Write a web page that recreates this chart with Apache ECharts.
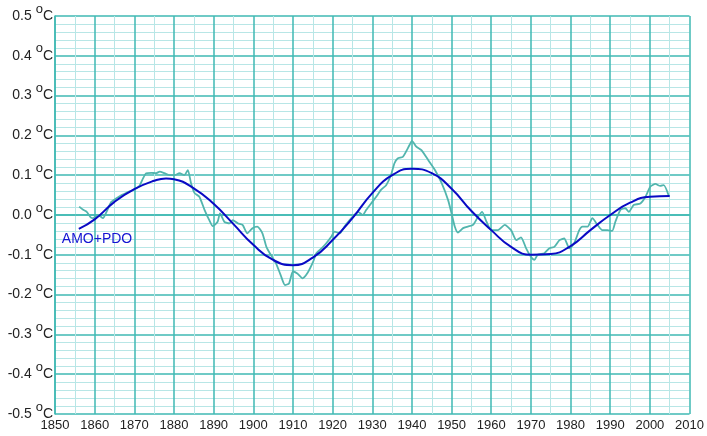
<!DOCTYPE html>
<html>
<head>
<meta charset="utf-8">
<script src="https://cdn.jsdelivr.net/npm/echarts@6/dist/echarts.min.js"></script>
<style>html,body{margin:0;padding:0;background:#fff;}#c{width:707px;height:436px;}</style>
</head>
<body>
<div id="c"></div>
<script>
// Observed (smoothed) temperature anomaly, green-teal curve
const obsYears = [1856.1,1857.1,1858.0,1859.0,1859.6,1860.9,1862.1,1863.0,1864.2,1865.5,1866.8,1868.0,1869.3,1870.5,1871.4,1872.2,1873.0,1874.3,1875.5,1876.4,1877.6,1878.9,1880.1,1881.4,1882.6,1883.5,1884.3,1885.2,1886.4,1887.7,1888.9,1889.8,1891.0,1891.6,1892.7,1894.0,1894.8,1896.1,1897.3,1898.5,1899.8,1901.0,1902.3,1903.3,1904.4,1905.7,1906.9,1908.0,1909.0,1910.0,1911.1,1912.4,1913.7,1915.1,1915.9,1917.2,1918.4,1919.7,1920.5,1921.8,1923.0,1924.3,1925.5,1926.4,1927.6,1928.5,1929.7,1931.0,1932.2,1933.5,1934.7,1935.6,1936.4,1937.7,1938.5,1939.4,1940.0,1941.1,1942.4,1944.1,1945.8,1947.5,1949.1,1950.0,1950.8,1951.6,1952.9,1954.1,1955.4,1956.7,1957.7,1958.8,1960.0,1961.7,1963.4,1965.0,1966.3,1967.5,1968.8,1970.0,1970.9,1971.7,1973.4,1974.6,1975.9,1977.2,1978.4,1979.7,1980.9,1982.2,1983.0,1984.3,1985.5,1986.8,1988.0,1989.3,1990.5,1991.3,1992.6,1993.8,1994.7,1995.9,1997.6,1998.9,2000.1,2001.4,2002.6,2003.5,2004.7];
const obsValues = [0.021,0.013,0.008,-0.006,-0.008,0.000,-0.008,0.008,0.033,0.042,0.050,0.056,0.061,0.067,0.075,0.092,0.105,0.106,0.105,0.109,0.105,0.100,0.100,0.105,0.100,0.113,0.080,0.055,0.046,0.013,-0.013,-0.028,-0.017,0.004,-0.017,-0.021,-0.013,-0.021,-0.025,-0.046,-0.033,-0.029,-0.046,-0.080,-0.100,-0.121,-0.151,-0.176,-0.172,-0.142,-0.147,-0.159,-0.145,-0.117,-0.096,-0.084,-0.071,-0.054,-0.042,-0.046,-0.029,-0.013,0.000,0.008,0.000,0.013,0.029,0.046,0.063,0.075,0.100,0.130,0.142,0.146,0.159,0.176,0.186,0.172,0.163,0.138,0.113,0.080,0.038,0.004,-0.029,-0.044,-0.033,-0.029,-0.025,-0.004,0.008,-0.017,-0.038,-0.038,-0.025,-0.038,-0.063,-0.056,-0.084,-0.105,-0.113,-0.100,-0.096,-0.084,-0.080,-0.063,-0.059,-0.084,-0.071,-0.038,-0.029,-0.029,-0.008,-0.025,-0.038,-0.038,-0.040,-0.017,0.013,0.017,0.008,0.025,0.029,0.046,0.071,0.078,0.073,0.075,0.050];

// AMO+PDO smooth curve, blue
const amoYears = [1856,1860,1865,1870,1875,1878,1880,1885,1890,1895,1900,1905,1910,1915,1920,1925,1930,1935,1940,1945,1950,1955,1960,1965,1970,1975,1980,1985,1990,1995,2000,2005];
const amoValues = [-0.035,-0.011,0.033,0.065,0.086,0.092,0.090,0.067,0.028,-0.023,-0.075,-0.113,-0.126,-0.107,-0.063,-0.008,0.055,0.100,0.116,0.105,0.066,0.010,-0.038,-0.080,-0.100,-0.098,-0.078,-0.038,0.000,0.031,0.046,0.048];

const seriesLabel = 'AMO+PDO';
const labelAt = [1860.6, -0.061];

const major = '#3fb9b3';
const minor = '#b8e6e6';
const font = '"Liberation Sans", Arial, sans-serif';

const chart = echarts.init(document.getElementById('c'), null, {renderer: 'canvas'});
chart.setOption({
  animation: false,
  backgroundColor: '#fff',
  grid: {left: 55, top: 16, right: 15, bottom: 22, containLabel: false},
  xAxis: {
    type: 'value', min: 1850, max: 2010, interval: 10,
    axisLine: {show: true, lineStyle: {color: major, width: 1.5}},
    axisTick: {show: false},
    axisLabel: {color: '#222', fontSize: 13, fontFamily: font, margin: 5, formatter: v => String(v)},
    splitLine: {show: true, lineStyle: {color: major, width: 1.5}},
    minorTick: {show: false, splitNumber: 2},
    minorSplitLine: {show: true, lineStyle: {color: minor, width: 1}}
  },
  yAxis: {
    type: 'value', min: -0.5, max: 0.5, interval: 0.1,
    axisLine: {show: true, lineStyle: {color: major, width: 1.5}},
    axisTick: {show: false},
    axisLabel: {
      margin: 2,
      formatter: v => '{n|' + v.toFixed(1) + ' }{s|o}{n|C}',
      rich: {
        n: {fontSize: 14, fontFamily: font, color: '#222', lineHeight: 27, verticalAlign: 'middle'},
        s: {fontSize: 13, fontFamily: font, color: '#222', lineHeight: 12, verticalAlign: 'top'}
      }
    },
    splitLine: {show: true, lineStyle: {color: major, width: 1.5}},
    minorTick: {show: false, splitNumber: 5},
    minorSplitLine: {show: true, lineStyle: {color: minor, width: 1}}
  },
  series: [
    {
      type: 'line', name: 'observed',
      data: obsYears.map((y, i) => [y, obsValues[i]]),
      showSymbol: false, smooth: 0.2,
      lineStyle: {color: '#52b5ad', width: 1.8},
      z: 3
    },
    {
      type: 'line', name: seriesLabel,
      data: amoYears.map((y, i) => [y, amoValues[i]]),
      showSymbol: false, smooth: true,
      lineStyle: {color: '#0a0ac4', width: 2},
      z: 4
    }
  ]
});
const p = chart.convertToPixel({gridIndex: 0}, labelAt);
chart.setOption({
  graphic: [{
    type: 'text', x: p[0], y: p[1],
    style: {text: seriesLabel, fill: '#1414d2', font: '14px ' + font, textAlign: 'center', textVerticalAlign: 'middle'}
  }]
});
</script>
</body>
</html>
